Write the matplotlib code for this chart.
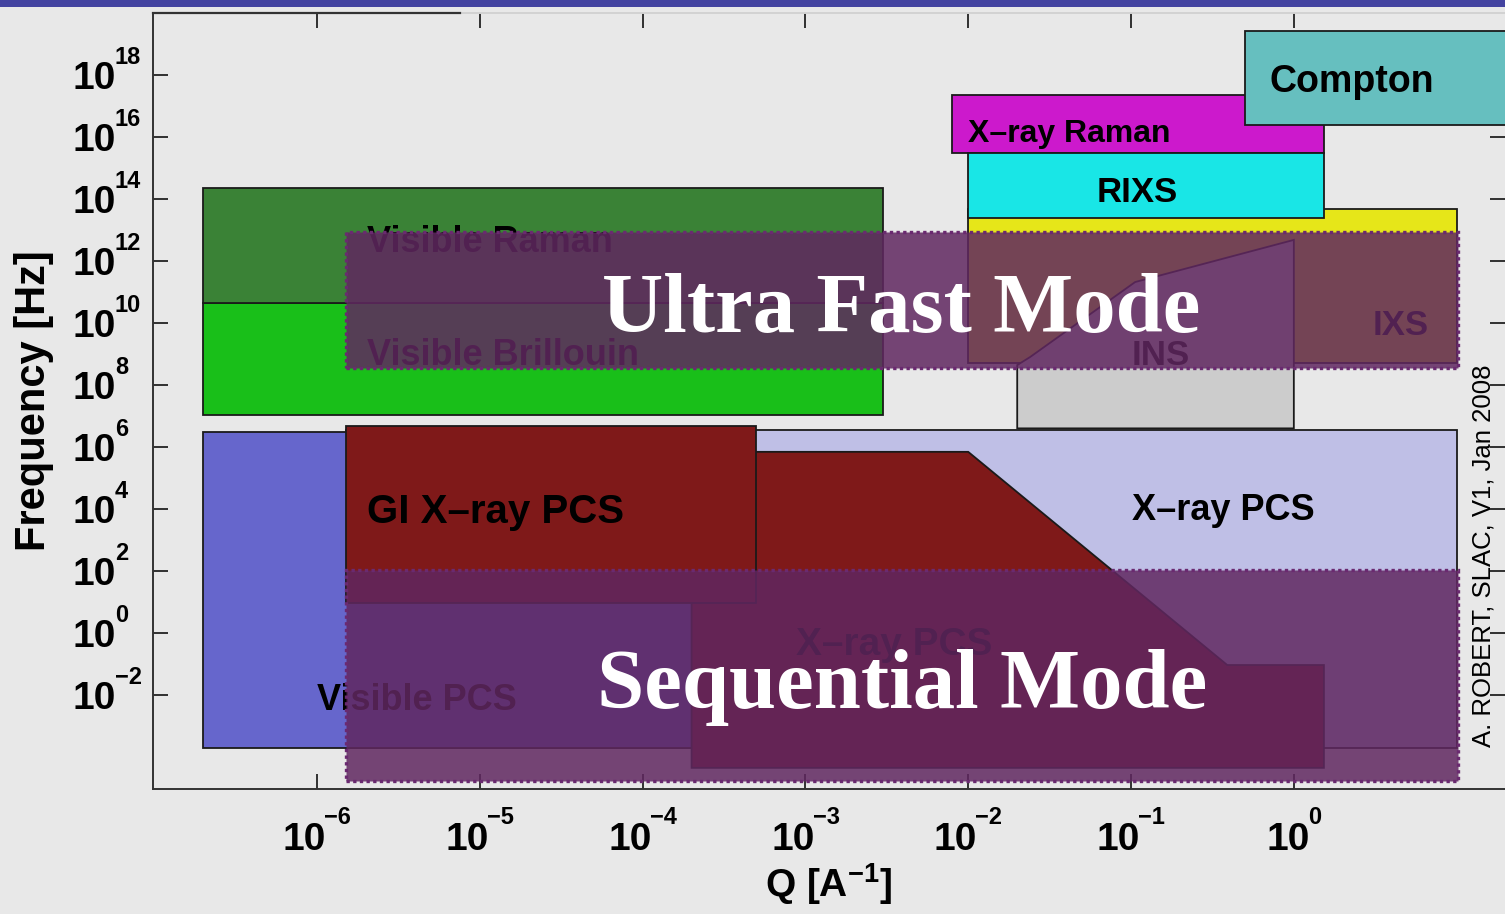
import matplotlib
matplotlib.use("Agg")
import matplotlib.pyplot as plt
from matplotlib.patches import Rectangle
from matplotlib.lines import Line2D
from matplotlib.ticker import FixedLocator, NullLocator

plt.rcParams['font.family'] = ['Liberation Sans', 'DejaVu Sans']
plt.rcParams['mathtext.fontset'] = 'custom'
plt.rcParams['mathtext.rm'] = 'Liberation Sans:bold'
plt.rcParams['mathtext.it'] = 'Liberation Sans:bold'
plt.rcParams['mathtext.bf'] = 'Liberation Sans:bold'
plt.rcParams['mathtext.default'] = 'rm'

# ---------------- data ----------------
x_tick_exp = [-6, -5, -4, -3, -2, -1, 0]
y_tick_exp = [-2, 0, 2, 4, 6, 8, 10, 12, 14, 16, 18]

# rectangles: Q range [A^-1], frequency range [Hz]
xpcs_q = [1.5e-6, 10.0]
xpcs_f = [2e-4, 3.5e6]
visible_pcs_q = [2e-7, 2e-4]
visible_pcs_f = [2e-4, 3e6]
# current-source X-ray PCS polygon
xpcs_cur_q = [2e-4, 2e-4, 1e-2, 0.39, 1.53, 1.53]
xpcs_cur_f = [4.5e-5, 7e5, 7e5, 0.093, 0.093, 4.5e-5]
gi_xpcs_q = [1.5e-6, 5e-4]
gi_xpcs_f = [9.3, 4.8e6]
visible_brillouin_q = [2e-7, 3e-3]
visible_brillouin_f = [1.07e7, 4.5e10]
visible_raman_q = [2e-7, 3e-3]
visible_raman_f = [4.5e10, 2.2e14]
ixs_q = [1e-2, 10.0]
ixs_f = [5e8, 4.8e13]
ins_q = [0.02, 0.02, 0.024, 0.106, 1.0, 1.0]
ins_f = [4e6, 4.4e8, 8e8, 2.1e11, 4.8e12, 4e6]
rixs_q = [1e-2, 1.53]
rixs_f = [2.5e13, 3e15]
xray_raman_q = [8e-3, 1.53]
xray_raman_f = [3e15, 2.2e17]
compton_q = [0.5, 100.0]
compton_f = [2.5e16, 2.6e19]

ultra_fast_q = [1.5e-6, 10.2]
ultra_fast_f = [3.5e8, 8.7e12]
sequential_q = [1.5e-6, 10.2]
sequential_f = [1.7e-5, 107.0]

# labels: text, q, f (baseline), ha, size, zorder
labels = [
    ("Compton", 2.27, 10**17.45, 'center', 27, 10),
    ("X\u2013ray Raman", 1.0e-2, 10**15.84, 'left', 23, 10),
    ("RIXS", 0.109, 10**13.90, 'center', 25, 10),
    ("IXS", 4.55, 10**9.61, 'center', 25, 3),
    ("INS", 0.153, 10**8.65, 'center', 25, 3),
    ("Visible Raman", 2.03e-6, 10**12.29, 'left', 26, 3),
    ("Visible Brillouin", 2.03e-6, 10**8.65, 'left', 26, 3),
    ("GI X\u2013ray PCS", 2.03e-6, 10**3.55, 'left', 29, 3),
    ("X\u2013ray PCS", 0.367, 10**3.65, 'center', 26, 3),
    ("X\u2013ray PCS", 3.5e-3, 10**-0.71, 'center', 28, 3),
    ("Visible PCS", 1.0e-6, 10**-2.48, 'left', 26, 3),
]
mode_labels = [
    ("Ultra Fast Mode", 3.9e-3, 10**9.71),
    ("Sequential Mode", 3.9e-3, 10**-2.42),
]
credit = "A. ROBERT, SLAC, V1, Jan 2008"

# ---------------- figure ----------------
W, H = 1505, 914
PT = 0.72  # points per pixel at 100 dpi
fig = plt.figure(figsize=(W / 100, H / 100), dpi=100)
fig.patch.set_facecolor('#e8e8e8')
fig.patches.append(Rectangle((0, 1 - 7 / H), 1, 7 / H, transform=fig.transFigure,
                             facecolor='#4343a0', edgecolor='none', zorder=0))

ax = fig.add_axes([153 / W, 1 - 789 / H, (W - 153) / W, (789 - 13) / H])
ax.set_xscale('log')
ax.set_yscale('log')
ax.set_xlim(10**-7.007, 10**1.297)
ax.set_ylim(10**-5.03, 10**20.0)
ax.patch.set_alpha(0)


def rect(q, f):
    return [q[0], q[1], q[1], q[0]], [f[0], f[0], f[1], f[1]]


edge = dict(edgecolor='#1a1a1a', linewidth=1.3, zorder=2)

xs, ys = rect(xpcs_q, xpcs_f)
ax.fill(xs, ys, facecolor='#bfbfe6', **edge)
xs, ys = rect(visible_pcs_q, visible_pcs_f)
ax.fill(xs, ys, facecolor='#6666cc', **edge)
ax.fill(xpcs_cur_q, xpcs_cur_f, facecolor='#7f1919', **edge)
xs, ys = rect(gi_xpcs_q, gi_xpcs_f)
ax.fill(xs, ys, facecolor='#7f1919', **edge)
xs, ys = rect(visible_brillouin_q, visible_brillouin_f)
ax.fill(xs, ys, facecolor='#19bf19', **edge)
xs, ys = rect(visible_raman_q, visible_raman_f)
ax.fill(xs, ys, facecolor='#3a8236', **edge)
xs, ys = rect(ixs_q, ixs_f)
ax.fill(xs, ys, facecolor='#e6e619', **edge)
ax.fill(ins_q, ins_f, facecolor='#cccccc', **edge)
xs, ys = rect(xray_raman_q, xray_raman_f)
ax.fill(xs, ys, facecolor='#cc19cc', **edge)
xs, ys = rect(rixs_q, rixs_f)
ax.fill(xs, ys, facecolor='#19e6e6', **edge)
xs, ys = rect(compton_q, compton_f)
ax.fill(xs, ys, facecolor='#66bfbf', **edge)

for txt, q, f, ha, size, z in labels:
    ax.text(q, f, txt, ha=ha, va='baseline', fontsize=size, fontweight='bold',
            color='black', zorder=z)

ov_face = (0.376, 0.153, 0.376, 0.85)
for q, f in [(ultra_fast_q, ultra_fast_f), (sequential_q, sequential_f)]:
    xs, ys = rect(q, f)
    ax.fill(xs, ys, facecolor=ov_face, edgecolor='#6a2a70', linewidth=2.4,
            linestyle=(0, (1.0, 1.0)), zorder=5)

for txt, q, f in mode_labels:
    ax.text(q, f, txt, ha='center', va='baseline', fontsize=61, fontweight='bold',
            family='Liberation Serif', color='white', zorder=6)

ax.text((1483 - 153) / 1352, 0.30, credit, transform=ax.transAxes,
        rotation=90, ha='center', va='center', fontsize=18.5, color='black', zorder=6)

# ---------------- ticks ----------------
ax.xaxis.set_major_locator(FixedLocator([10.0**e for e in x_tick_exp]))
ax.yaxis.set_major_locator(FixedLocator([10.0**e for e in y_tick_exp]))
ax.xaxis.set_minor_locator(NullLocator())
ax.yaxis.set_minor_locator(NullLocator())
ax.tick_params(axis='both', which='major', direction='in', length=11, width=1.3,
               color='#222222', top=True, right=True,
               labelbottom=False, labelleft=False)

BASE_FS, SUP_FS = 28, 17
ten_w = 2 * 0.556 * BASE_FS / PT


def sup_text(e):
    return str(e).replace('-', '\u2212')


def sup_width(e):
    s = str(abs(e))
    return (0.556 * len(s) + (0.584 if e < 0 else 0)) * SUP_FS / PT


lab_kw = dict(textcoords='offset points', fontweight='bold', color='black',
              annotation_clip=False, va='baseline')
for e in x_tick_exp:
    total = ten_w - 2 + sup_width(e)
    left = -total / 2
    ax.annotate('10', xy=(10.0**e, 0), xycoords=('data', 'axes fraction'),
                xytext=((left + ten_w) * PT, -61 * PT), ha='right',
                fontsize=BASE_FS, **lab_kw)
    ax.annotate(sup_text(e), xy=(10.0**e, 0), xycoords=('data', 'axes fraction'),
                xytext=((left + ten_w - 2) * PT, -35 * PT), ha='left',
                fontsize=SUP_FS, **lab_kw)
for e in y_tick_exp:
    ax.annotate('10', xy=(0, 10.0**e), xycoords=('axes fraction', 'data'),
                xytext=(-37 * PT, -14 * PT), ha='right', fontsize=BASE_FS, **lab_kw)
    ax.annotate(sup_text(e), xy=(0, 10.0**e), xycoords=('axes fraction', 'data'),
                xytext=(-38 * PT, 11 * PT), ha='left', fontsize=SUP_FS, **lab_kw)

for s in ax.spines.values():
    s.set_color('#333333')
    s.set_linewidth(1.4)
    s.set_zorder(7)
ax.spines['right'].set_visible(False)
ax.spines['top'].set_color('#d2d2d2')
ax.add_line(Line2D([0, (460 - 153) / 1352], [1, 1], transform=ax.transAxes,
                   color='#333333', linewidth=1.6, clip_on=False, zorder=8))

ax.set_xlabel(r'Q [A$^{-1}$]', fontsize=28, fontweight='bold')
ax.xaxis.set_label_coords(0.5, -(861 - 789) / 776)
ax.set_ylabel('Frequency [Hz]', fontsize=30, fontweight='bold')
ax.yaxis.set_label_coords((54 - 153) / 1352, 0.5)

fig.savefig('out.png', dpi=100, facecolor=fig.get_facecolor())
